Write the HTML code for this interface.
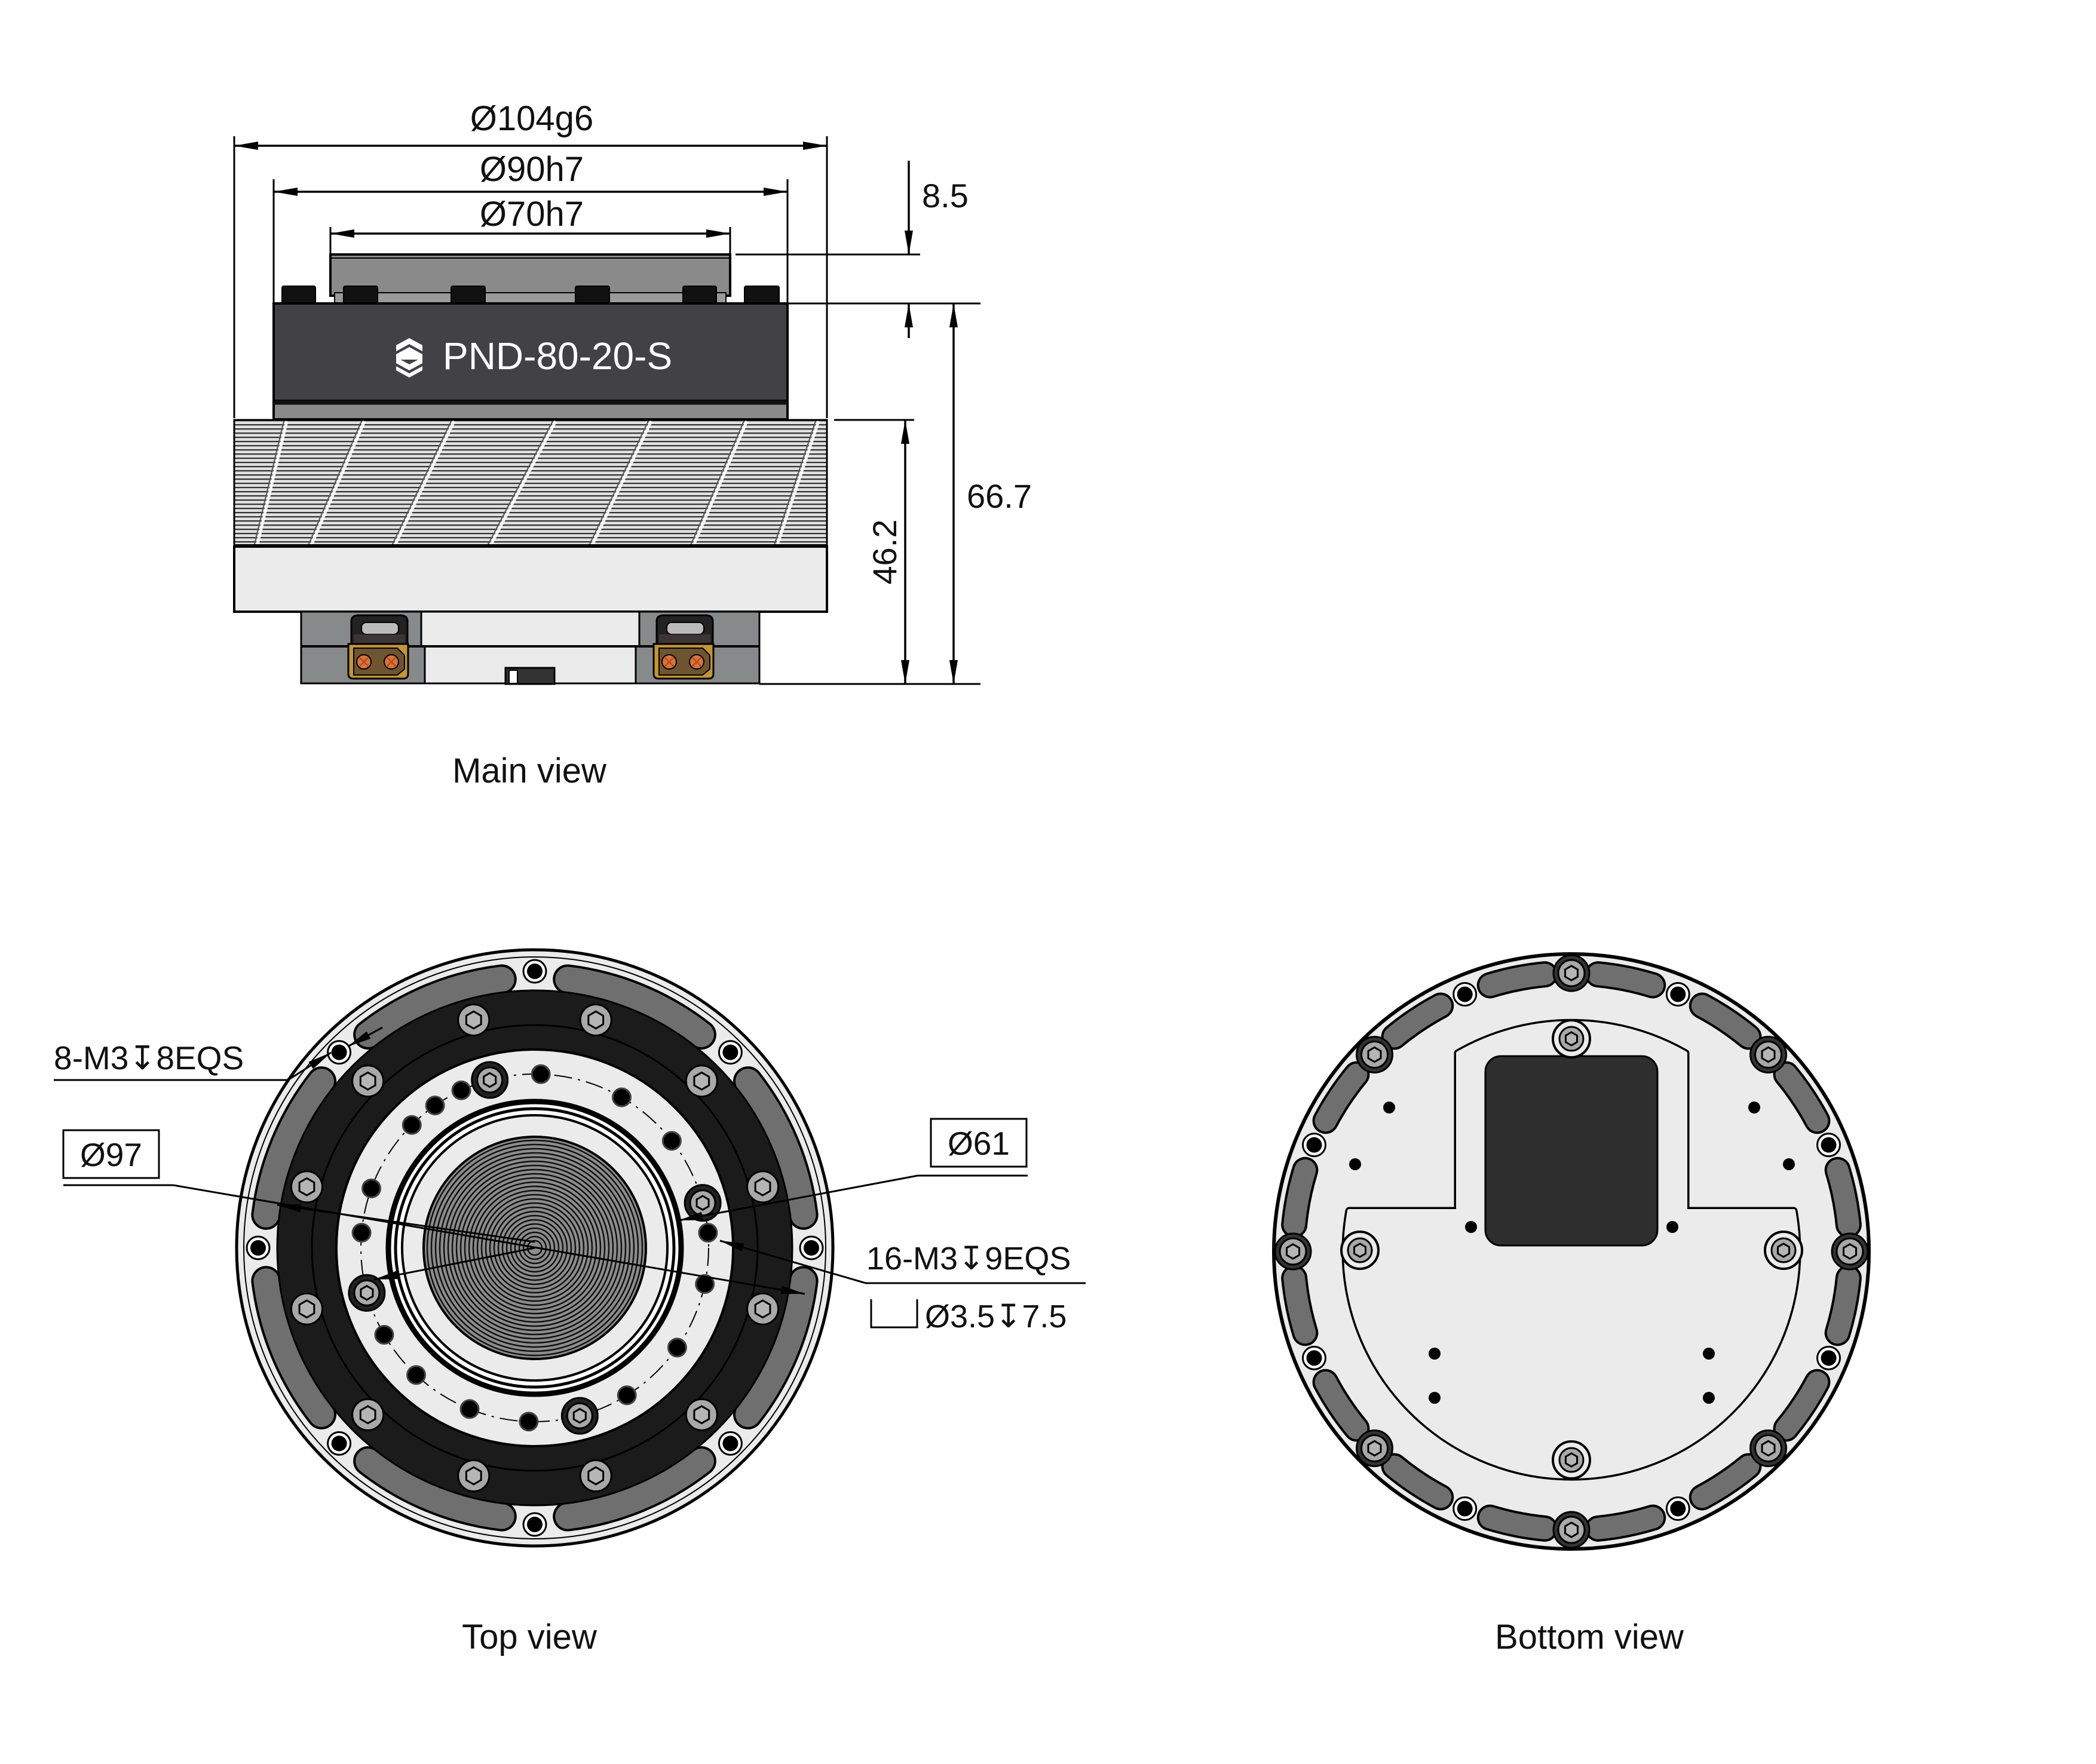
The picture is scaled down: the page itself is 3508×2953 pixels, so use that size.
<!DOCTYPE html>
<html><head><meta charset="utf-8"><style>
html,body{margin:0;padding:0;background:#fff;}
svg{display:block;}
text{font-family:"Liberation Sans","DejaVu Sans",sans-serif;fill:#111;}
</style></head><body>
<svg id="s" xmlns="http://www.w3.org/2000/svg" width="3508" height="2953" viewBox="0 0 3508 2953">
<defs>
<pattern id="fin" x="0" y="703" width="40" height="7" patternUnits="userSpaceOnUse">
<rect width="40" height="7" fill="#e0e0e0"/><line x1="0" y1="1" x2="40" y2="1" stroke="#333" stroke-width="2.5"/>
</pattern>
<marker id="ab" viewBox="0 0 40 14" refX="40" refY="7" markerWidth="40" markerHeight="14" markerUnits="userSpaceOnUse" orient="auto-start-reverse"><path d="M0,0 L40,7 L0,14z" fill="#000"/></marker>
</defs>

<!-- ============ MAIN VIEW ============ -->
<g stroke="#000" stroke-width="3" fill="none">
<line x1="392" y1="228" x2="392" y2="700"/><line x1="1384" y1="228" x2="1384" y2="700"/>
<line x1="458" y1="300" x2="458" y2="508"/><line x1="1318" y1="300" x2="1318" y2="508"/>
<line x1="553" y1="380" x2="553" y2="426"/><line x1="1222" y1="380" x2="1222" y2="426"/>
<line x1="1231" y1="426" x2="1540" y2="426"/>
<line x1="1318" y1="508" x2="1641" y2="508"/>
<line x1="1396" y1="703" x2="1530" y2="703"/>
<line x1="1271" y1="1145" x2="1641" y2="1145"/>
</g>
<g stroke="#000" stroke-width="3.5">
<line x1="392" y1="244" x2="1384" y2="244" marker-start="url(#ab)" marker-end="url(#ab)"/>
<line x1="458" y1="321" x2="1318" y2="321" marker-start="url(#ab)" marker-end="url(#ab)"/>
<line x1="553" y1="391" x2="1222" y2="391" marker-start="url(#ab)" marker-end="url(#ab)"/>
<line x1="1521" y1="269" x2="1521" y2="426" marker-end="url(#ab)"/>
<line x1="1521" y1="566" x2="1521" y2="508" marker-end="url(#ab)"/>
<line x1="1596" y1="508" x2="1596" y2="1145" marker-start="url(#ab)" marker-end="url(#ab)"/>
<line x1="1515" y1="703" x2="1515" y2="1145" marker-start="url(#ab)" marker-end="url(#ab)"/>
</g>
<text x="890" y="218" font-size="58" text-anchor="middle">Ø104g6</text>
<text x="890" y="303" font-size="58" text-anchor="middle">Ø90h7</text>
<text x="890" y="378" font-size="58" text-anchor="middle">Ø70h7</text>
<text x="1543" y="347" font-size="56">8.5</text>
<text x="1618" y="850" font-size="56">66.7</text>
<text x="0" y="0" font-size="56" text-anchor="middle" transform="translate(1500,924) rotate(-90)">46.2</text>

<rect x="553" y="426" width="669" height="69" fill="#8a8a8a" stroke="#000" stroke-width="4"/>
<line x1="553" y1="432" x2="1222" y2="432" stroke="#000" stroke-width="2"/>
<rect x="560" y="490" width="655" height="18" fill="#9a9a9a" stroke="#000" stroke-width="2"/>
<g fill="#111" stroke="#000" stroke-width="2">
<rect x="472" y="479" width="56" height="30" rx="3"/><rect x="575" y="479" width="57" height="30" rx="3"/>
<rect x="755" y="479" width="57" height="30" rx="3"/><rect x="963" y="479" width="57" height="30" rx="3"/>
<rect x="1143" y="479" width="56" height="30" rx="3"/><rect x="1246" y="479" width="58" height="30" rx="3"/>
</g>
<rect x="458" y="508" width="860" height="163" fill="#424244" stroke="#000" stroke-width="4"/>
<rect x="458" y="671" width="860" height="31" fill="#8a8a8a" stroke="#000" stroke-width="4"/>
<line x1="458" y1="674" x2="1318" y2="674" stroke="#111" stroke-width="7"/>
<g fill="#fff">
<polygon points="663,578 685,566 707,578 707,588 685,576 663,588"/>
<polygon points="663,593 685,581 707,593 707,608 685,620 663,608 663,598 685,610 700,602 663,602"/>
<polygon points="663,613 685,625 707,613 707,620 685,632 663,620"/>
</g>
<text x="741" y="618" font-size="64" style="fill:#fff">PND-80-20-S</text>
<rect x="392" y="703" width="992" height="212" fill="url(#fin)" stroke="#000" stroke-width="3"/>
<g stroke="#fff" stroke-width="5" fill="none" opacity="0.9">
<line x1="430" y1="915" x2="480" y2="705"/><line x1="520" y1="915" x2="610" y2="705"/>
<line x1="660" y1="915" x2="760" y2="705"/><line x1="820" y1="915" x2="930" y2="705"/>
<line x1="990" y1="915" x2="1090" y2="705"/><line x1="1160" y1="915" x2="1250" y2="705"/>
<line x1="1300" y1="915" x2="1370" y2="705"/>
</g>
<g stroke="#555" stroke-width="2" fill="none">
<line x1="425" y1="915" x2="475" y2="705"/><line x1="515" y1="915" x2="605" y2="705"/>
<line x1="655" y1="915" x2="755" y2="705"/><line x1="815" y1="915" x2="925" y2="705"/>
<line x1="985" y1="915" x2="1085" y2="705"/><line x1="1155" y1="915" x2="1245" y2="705"/>
<line x1="1295" y1="915" x2="1365" y2="705"/>
</g>
<line x1="392" y1="914" x2="1384" y2="914" stroke="#000" stroke-width="6"/>
<rect x="392" y="915" width="992" height="109" fill="#ebebeb" stroke="#000" stroke-width="4"/>
<rect x="504" y="1024" width="767" height="120" fill="#ebebeb" stroke="#000" stroke-width="3"/>
<rect x="504" y="1024" width="201" height="58" fill="#878a8a" stroke="#000" stroke-width="3"/>
<rect x="1070" y="1024" width="201" height="58" fill="#878a8a" stroke="#000" stroke-width="3"/>
<rect x="504" y="1082" width="207" height="62" fill="#878a8a" stroke="#000" stroke-width="3"/>
<rect x="1064" y="1082" width="207" height="62" fill="#878a8a" stroke="#000" stroke-width="3"/>
<line x1="504" y1="1082" x2="1271" y2="1082" stroke="#000" stroke-width="4"/>
<rect x="846" y="1118" width="82" height="27" fill="#333" stroke="#000" stroke-width="3"/>
<rect x="852" y="1122" width="14" height="22" fill="#fff" stroke="#000" stroke-width="2"/>
<g id="conn">
<path d="M588,1082 L588,1040 Q588,1030 600,1030 L670,1030 Q682,1030 682,1040 L682,1082Z" fill="#222" stroke="#000" stroke-width="3"/>
<rect x="605" y="1042" width="62" height="20" rx="8" fill="#bbb" stroke="#000" stroke-width="2"/>
<rect x="592" y="1062" width="86" height="20" fill="#3d3436"/>
<path d="M583,1078 L683,1078 L683,1128 Q683,1136 675,1136 L591,1136 Q583,1136 583,1128Z" fill="#c4962c" stroke="#000" stroke-width="3"/>
<path d="M592,1085 L665,1085 L677,1097 L677,1120 L665,1130 L592,1130Z" fill="#6e5530" stroke="#000" stroke-width="2"/>
<circle cx="609" cy="1108" r="12" fill="#d07a30" stroke="#000" stroke-width="2"/>
<circle cx="655" cy="1108" r="12" fill="#d07a30" stroke="#000" stroke-width="2"/>
<path d="M601,1100 L617,1116 M617,1100 L601,1116 M647,1100 L663,1116 M663,1100 L647,1116" stroke="#c33" stroke-width="2"/>
</g>
<use href="#conn" transform="translate(511,0)"/>
<text x="886" y="1310" font-size="58" text-anchor="middle">Main view</text>

<!-- ============ TOP VIEW ============ -->
<g id="top"></g>
<text x="90" y="1790" font-size="55">8-M3↧8EQS</text>
<line x1="90" y1="1808" x2="482" y2="1808" stroke="#000" stroke-width="3"/>
<line x1="482" y1="1808" x2="554" y2="1762" stroke="#000" stroke-width="3" marker-end="url(#ab)"/>
<line x1="640" y1="1720" x2="582" y2="1752" stroke="#000" stroke-width="3" marker-end="url(#ab)"/>
<rect x="106" y="1892" width="160" height="80" fill="none" stroke="#000" stroke-width="3"/>
<text x="186" y="1952" font-size="55" text-anchor="middle">Ø97</text>
<line x1="106" y1="1984" x2="290" y2="1984" stroke="#000" stroke-width="3"/>
<line x1="290" y1="1984" x2="1347" y2="2166" stroke="#000" stroke-width="3" marker-end="url(#ab)"/>
<line x1="895" y1="2079" x2="464" y2="2017" stroke="#000" stroke-width="3" marker-end="url(#ab)"/>
<rect x="1558" y="1873" width="160" height="80" fill="none" stroke="#000" stroke-width="3"/>
<text x="1638" y="1933" font-size="55" text-anchor="middle">Ø61</text>
<line x1="1720" y1="1968" x2="1536" y2="1968" stroke="#000" stroke-width="3"/>
<line x1="1536" y1="1968" x2="1136" y2="2043" stroke="#000" stroke-width="3" marker-end="url(#ab)"/>
<line x1="895" y1="2089" x2="626" y2="2142" stroke="#000" stroke-width="3" marker-end="url(#ab)"/>
<text x="1450" y="2125" font-size="54">16-M3↧9EQS</text>
<line x1="1449" y1="2148" x2="1817" y2="2148" stroke="#000" stroke-width="3"/>
<line x1="1449" y1="2148" x2="1205" y2="2077" stroke="#000" stroke-width="3" marker-end="url(#ab)"/>
<path d="M1458,2175 L1458,2222 L1535,2222 L1535,2175" fill="none" stroke="#000" stroke-width="3"/>
<text x="1548" y="2222" font-size="54">Ø3.5↧7.5</text>
<text x="886" y="2760" font-size="58" text-anchor="middle">Top view</text>

<!-- ============ BOTTOM VIEW ============ -->
<g id="bot"></g>
<text x="2660" y="2760" font-size="58" text-anchor="middle">Bottom view</text>
</svg>
<script>
var NS="http://www.w3.org/2000/svg";
function el(p,t,a){var e=document.createElementNS(NS,t);for(var k in a)e.setAttribute(k,a[k]);p.appendChild(e);return e;}
function pt(cx,cy,r,d){var a=d*Math.PI/180;return [cx+r*Math.cos(a),cy+r*Math.sin(a)];}
function arc(cx,cy,r,a1,a2){var p=pt(cx,cy,r,a1),q=pt(cx,cy,r,a2);return "M"+p[0]+","+p[1]+" A"+r+","+r+" 0 "+((a2-a1)>180?1:0)+" 1 "+q[0]+","+q[1];}
function hex(g,x,y,r){var s="";for(var i=0;i<6;i++){var p=pt(x,y,r,90+i*60);s+=p[0]+","+p[1]+" ";}el(g,"polygon",{points:s,fill:"#b5b5b5",stroke:"#000","stroke-width":3});}
function bolt(g,x,y,ro,dark){if(dark)el(g,"circle",{cx:x,cy:y,r:ro+8,fill:"#333",stroke:"#000","stroke-width":3});el(g,"circle",{cx:x,cy:y,r:ro,fill:"#a8a8a8",stroke:"#000","stroke-width":3});hex(g,x,y,ro*0.55);}
function slot(g,cx,cy,r,a1,a2,w){el(g,"path",{d:arc(cx,cy,r,a1,a2),stroke:"#000","stroke-width":w+8,fill:"none","stroke-linecap":"round"});el(g,"path",{d:arc(cx,cy,r,a1,a2),stroke:"#6f6f6f","stroke-width":w,fill:"none","stroke-linecap":"round"});}
function hole(g,x,y){el(g,"circle",{cx:x,cy:y,r:19,fill:"#fff",stroke:"#000","stroke-width":3});el(g,"circle",{cx:x,cy:y,r:13,fill:"#000"});}
(function(){var g=document.getElementById("top"),cx=895,cy=2089;
el(g,"circle",{cx:cx,cy:cy,r:499,fill:"#ebebeb",stroke:"#000","stroke-width":5});
el(g,"circle",{cx:cx,cy:cy,r:487,fill:"none",stroke:"#000","stroke-width":2});
for(var k=0;k<8;k++)slot(g,cx,cy,453,k*45+7,k*45+38,42);
for(var k=0;k<8;k++){var p=pt(cx,cy,463,k*45);hole(g,p[0],p[1]);}
el(g,"circle",{cx:cx,cy:cy,r:431,fill:"#1b1b1b",stroke:"#000","stroke-width":3});
el(g,"circle",{cx:cx,cy:cy,r:373,fill:"none",stroke:"#000","stroke-width":3});
for(var k=0;k<12;k++){var p=pt(cx,cy,395,15+k*30);bolt(g,p[0],p[1],26,false);}
el(g,"circle",{cx:cx,cy:cy,r:332,fill:"#ebebeb",stroke:"#000","stroke-width":4});
el(g,"circle",{cx:cx,cy:cy,r:291,fill:"none",stroke:"#000","stroke-width":2,"stroke-dasharray":"30 10 4 10"});
var bolts=[-105,-15,75,165];
for(var k=0;k<4;k++){var p=pt(cx,cy,291,bolts[k]);el(g,"circle",{cx:p[0],cy:p[1],r:30,fill:"#222",stroke:"#000","stroke-width":3});bolt(g,p[0],p[1],21,false);}
var dots=[-125,-88,-60,-38,-5,12,35,58,92,112,133,150,185,200,225,245];
for(var k=0;k<dots.length;k++){var p=pt(cx,cy,291,dots[k]);el(g,"circle",{cx:p[0],cy:p[1],r:15,fill:"#000",stroke:"#444","stroke-width":3});}
el(g,"circle",{cx:cx,cy:cy,r:245,fill:"#fff",stroke:"#000","stroke-width":9});
el(g,"circle",{cx:cx,cy:cy,r:233,fill:"none",stroke:"#000","stroke-width":5});
el(g,"circle",{cx:cx,cy:cy,r:222,fill:"#ebebeb",stroke:"#000","stroke-width":4});
el(g,"circle",{cx:cx,cy:cy,r:186,fill:"#8c8c8c",stroke:"#000","stroke-width":4});
for(var r=180;r>5;r-=7)el(g,"circle",{cx:cx,cy:cy,r:r,fill:"none",stroke:"#111","stroke-width":2.5});
})();
(function(){var g=document.getElementById("bot"),cx=2630,cy=2095;
el(g,"circle",{cx:cx,cy:cy,r:498,fill:"#ebebeb",stroke:"#000","stroke-width":6});
for(var k=0;k<16;k++)slot(g,cx,cy,466,k*22.5+5.5,k*22.5+17,36);
for(var k=0;k<8;k++){var p=pt(cx,cy,466,k*45);bolt(g,p[0],p[1],22,true);}
for(var k=0;k<8;k++){var p=pt(cx,cy,466,22.5+k*45);hole(g,p[0],p[1]);}
var d="M2258,2027 A378,378 0 1 0 3002,2027 L2821,2027 L2821,1763 A383,383 0 0 0 2440,1763 L2440,2027 Z";
el(g,"path",{d:d,fill:"none",stroke:"#000","stroke-width":13,"stroke-linejoin":"round"});
el(g,"path",{d:d,fill:"#ebebeb",stroke:"#ebebeb","stroke-width":6,"stroke-linejoin":"round"});
el(g,"rect",{x:2486,y:1768,width:288,height:317,rx:26,fill:"#2e2e2e",stroke:"#000","stroke-width":3});
var pb=[[2630,1739],[2630,2444],[2276,2093],[2985,2093]];
for(var i=0;i<4;i++){el(g,"circle",{cx:pb[i][0],cy:pb[i][1],r:31,fill:"#ebebeb",stroke:"#000","stroke-width":4});bolt(g,pb[i][0],pb[i][1],20,false);}
var dt=[[2325,1854],[2268,1949],[2462,2054],[2799,2054],[2936,1854],[2994,1949],[2401,2266],[2401,2340],[2860,2266],[2860,2340]];
for(var i=0;i<dt.length;i++)el(g,"circle",{cx:dt[i][0],cy:dt[i][1],r:10,fill:"#000"});
})();
</script>
</body></html>
